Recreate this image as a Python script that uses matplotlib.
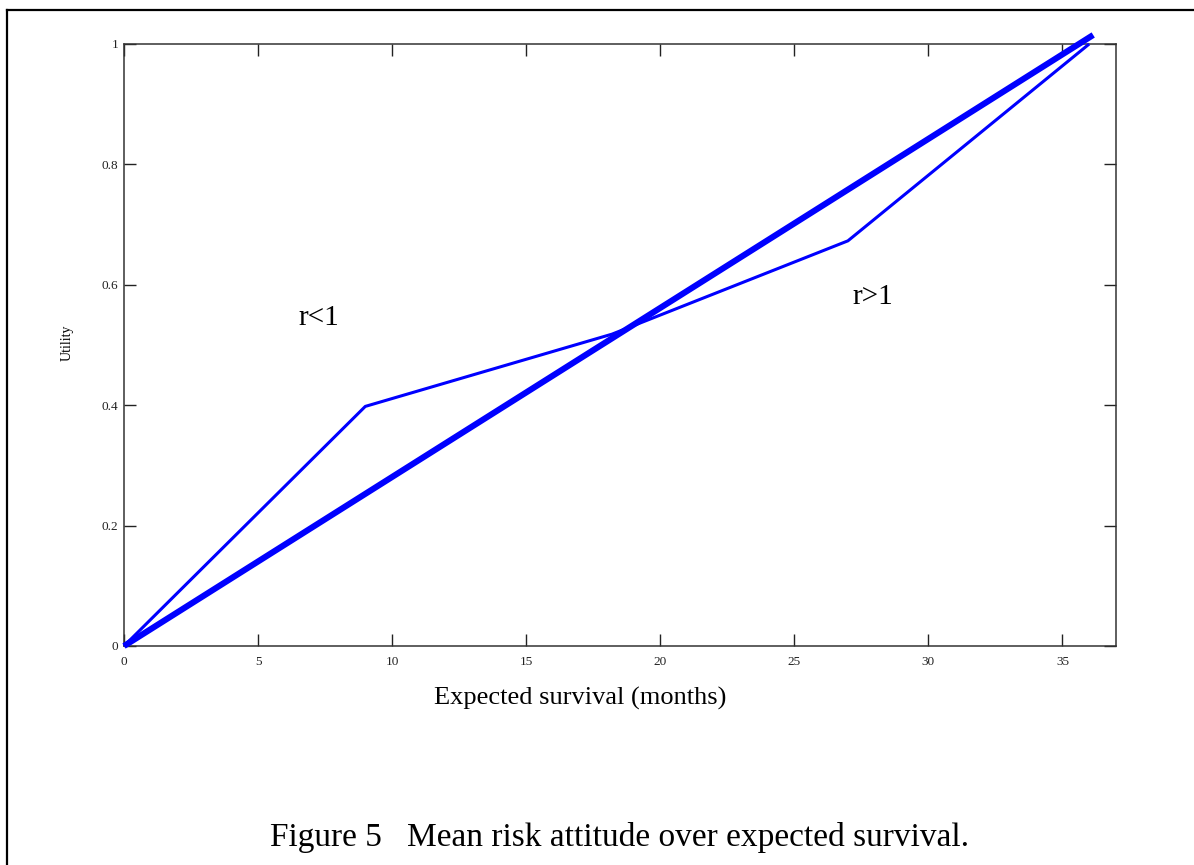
import matplotlib
matplotlib.use("Agg")
import matplotlib.pyplot as plt
from matplotlib.lines import Line2D

# ---- data ----
survival_months = [0, 9, 18.2, 27, 36]
utility_mean = [0, 0.398, 0.518, 0.673, 1.0]
neutral_months = [0, 36.15]
neutral_utility = [0, 1.015]
x_ticks = [0, 5, 10, 15, 20, 25, 30, 35]
y_ticks = [0, 0.2, 0.4, 0.6, 0.8, 1]
y_tick_labels = ["0", "0.2", "0.4", "0.6", "0.8", "1"]

plt.rcParams['font.family'] = ['Liberation Serif', 'DejaVu Serif']

W, H = 1194, 865
fig = plt.figure(figsize=(W / 100, H / 100), dpi=100)

ax = fig.add_axes([124 / W, 1 - 646 / H, (1116 - 124) / W, (646 - 44) / H])
ax.plot(neutral_months, neutral_utility, color='#0000ff', lw=4.4,
        solid_capstyle='butt', clip_on=False, zorder=3)
ax.plot(survival_months, utility_mean, color='#0000ff', lw=2.2,
        solid_capstyle='butt', clip_on=False, zorder=3)

ax.set_xlim(0, 37)
ax.set_ylim(0, 1)
ax.set_xticks(x_ticks)
ax.set_xticklabels([str(v) for v in x_ticks])
ax.set_yticks(y_ticks)
ax.set_yticklabels(y_tick_labels)
ax.tick_params(axis='both', direction='in', length=8.5, width=1,
               top=True, right=True, labelsize=9.5, colors='#222222')
ax.tick_params(axis='x', pad=7)
ax.tick_params(axis='y', pad=4)
for s in ax.spines.values():
    s.set_linewidth(1.1)
    s.set_color('#333333')

ax.text(7.28, 0.545, "r<1", fontsize=21, ha='center', va='center')
ax.text(27.93, 0.58, "r>1", fontsize=21, ha='center', va='center')

fig.text(67 / W, 1 - 343 / H, "Utility", rotation=90, fontsize=10,
         ha='center', va='center')
fig.text(580 / W, 1 - 698 / H, "Expected survival (months)", fontsize=19,
         ha='center', va='center')
fig.text(620 / W, 1 - 846 / H, "Figure 5   Mean risk attitude over expected survival.",
         fontsize=24, ha='center', va='baseline')

# outer frame (cropped at right and bottom)
fig.add_artist(Line2D([7 / W, 7 / W], [0, 1 - 10 / H], transform=fig.transFigure,
                      color='black', lw=1.6))
fig.add_artist(Line2D([7 / W, 1], [1 - 10 / H, 1 - 10 / H], transform=fig.transFigure,
                      color='black', lw=1.6))

fig.savefig("out.png", dpi=100)
